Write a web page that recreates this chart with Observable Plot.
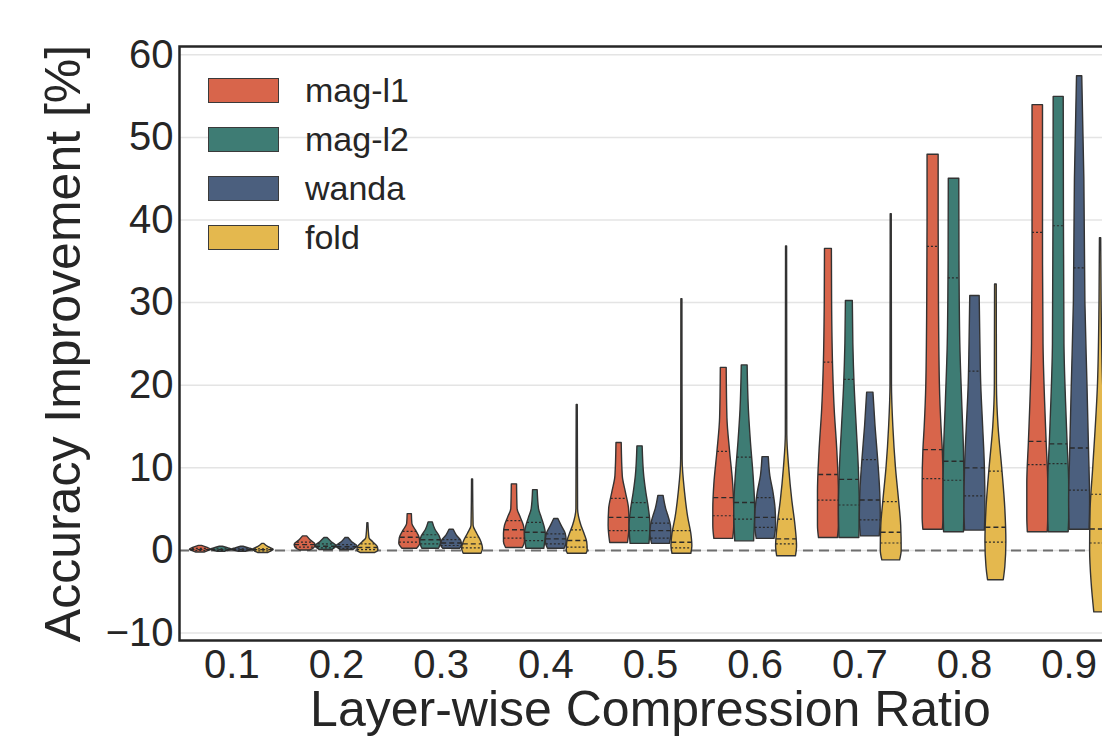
<!DOCTYPE html>
<html><head><meta charset="utf-8">
<script src="https://cdn.jsdelivr.net/npm/d3@7"></script>
<script src="https://cdn.jsdelivr.net/npm/@observablehq/plot@0.6"></script>
<style>
html,body{margin:0;padding:0;background:#fff;overflow:hidden;width:1102px;height:742px}
#wrap{position:relative;width:1125px;height:742px}
.legend{position:absolute;left:208px;top:66px;font-family:"Liberation Sans",Arial,sans-serif;font-size:34px;color:#262626}
.legend .row{display:flex;align-items:center;height:49px}
.legend .sw{width:71px;height:25px;box-sizing:border-box;border:1.5px solid #3a3a3a;margin-right:26px}
</style></head><body><div id="wrap"></div>
<script>
const ratios = ["0.1","0.2","0.3","0.4","0.5","0.6","0.7","0.8","0.9"];
const methods = ["mag-l1","mag-l2","wanda","fold"];
const palette = ["#d8654b","#3e7c74","#4b5f7e","#e4b84e"];
const yTicks = [-10,0,10,20,30,40,50,60];

// violin outlines: [value, relative half-width], bottom to top, one per ratio
const magL1Profiles = [
  [[-0.25,0.4],[0.1,1],[0.3,0.7],[0.55,0.15]],
  [[0,0.5],[0.3,0.9],[0.7,1],[1.2,0.55],[1.7,0.2]],
  [[0.2,0.7],[0.8,1],[1.5,0.95],[2.4,0.6],[3.2,0.25],[4.4,0.2]],
  [[0.3,0.8],[1,1],[2,1],[3,0.9],[4,0.6],[5,0.3],[8,0.25]],
  [[0.9,0.85],[3,1],[5,0.95],[7,0.65],[9,0.35],[13,0.25]],
  [[1.4,0.9],[3,1],[5,1],[8,0.9],[12,0.6],[16,0.35],[22.1,0.28]],
  [[1.5,0.9],[3,1],[7,1],[12,0.85],[17,0.6],[22,0.45],[30,0.35],[36.5,0.33]],
  [[2.5,0.93],[4,1],[8,1],[12,0.93],[15,0.8],[20,0.65],[30,0.56],[40,0.53],[47.9,0.53]],
  [[2.2,0.95],[4,1],[8,1],[13,0.85],[18,0.7],[25,0.55],[38,0.5],[53.9,0.5]]
];
const magL2Profiles = [
  [[-0.15,0.4],[0.1,1],[0.25,0.7],[0.45,0.15]],
  [[0.05,0.6],[0.5,1],[1.0,0.55],[1.5,0.15]],
  [[0.2,0.8],[1,1],[1.7,0.85],[2.5,0.45],[3.4,0.2]],
  [[0.2,0.85],[2,1],[3,0.85],[4,0.6],[5,0.35],[7.3,0.22]],
  [[0.8,0.9],[3,1],[5,0.85],[7,0.6],[9,0.4],[12.6,0.25]],
  [[1.1,0.9],[5,1],[9,0.85],[13,0.6],[17,0.4],[22.4,0.28]],
  [[1.5,0.95],[5,1],[10,0.9],[15,0.7],[20,0.5],[25,0.38],[30.2,0.33]],
  [[2.2,0.95],[6,1],[12,0.95],[18,0.78],[25,0.6],[35,0.52],[45,0.5]],
  [[2.2,0.95],[4,1],[8,1],[13,0.85],[18,0.7],[25,0.55],[40,0.5],[54.9,0.48]]
];
const wandaProfiles = [
  [[-0.15,0.4],[0.1,1],[0.25,0.65],[0.45,0.12]],
  [[0.05,0.6],[0.5,1],[1.0,0.5],[1.5,0.15]],
  [[0.2,0.8],[0.6,1],[1.2,0.9],[1.8,0.5],[2.5,0.2]],
  [[0.2,0.8],[1,1],[2,0.9],[3,0.5],[3.8,0.2]],
  [[0.8,0.85],[2,1],[3,0.95],[4,0.75],[5,0.5],[6.6,0.25]],
  [[1.4,0.85],[3,1],[5,0.95],[7,0.75],[9,0.45],[11.3,0.3]],
  [[1.7,0.9],[4,1],[7,0.95],[11,0.75],[15,0.5],[19.1,0.3]],
  [[2.4,0.95],[5,1],[10,0.95],[15,0.78],[20,0.6],[25,0.52],[30.8,0.45]],
  [[2.5,0.95],[6,1],[12,0.9],[20,0.75],[30,0.55],[45,0.45],[57.4,0.25]]
];
const foldProfiles = [
  [[-0.3,0.5],[0.1,1],[0.4,0.5],[0.8,0.08]],
  [[-0.3,0.7],[0,1],[0.4,0.95],[1.0,0.5],[1.5,0.15],[3.3,0.05]],
  [[-0.4,0.85],[0.2,1],[1,0.85],[2,0.45],[3,0.1],[8.6,0.05]],
  [[-0.4,0.9],[0,1],[1,0.95],[2,0.7],[3,0.4],[5,0.08],[17.6,0.05]],
  [[-0.4,0.9],[0.5,1],[2,0.9],[4,0.6],[7,0.3],[11,0.07],[30.4,0.05]],
  [[-0.7,0.9],[0.5,1],[3,0.85],[6,0.55],[10,0.25],[14,0.07],[36.8,0.05]],
  [[-1.2,0.85],[0,1],[3,0.95],[6,0.75],[10,0.45],[15,0.2],[20,0.07],[40.7,0.05]],
  [[-3.6,0.75],[-2,0.9],[1,1],[5,0.9],[10,0.6],[15,0.25],[20,0.1],[32.2,0.08]],
  [[-7.5,0.6],[-4,0.85],[0,1],[5,0.95],[10,0.7],[20,0.25],[30,0.1],[37.8,0.06]]
];

// inner quartile lines [q1, median, q3]
const magL1Quartiles = [[0,0.1,0.25],[0.4,0.7,1.0],[1.0,1.6,2.3],[1.5,2.5,3.6],[2.4,4.0,6.3],[4.2,6.4,12.0],[6.1,9.2,22.8],[8.7,12.2,36.8],[10.4,13.2,38.5]];
const magL2Quartiles = [[0,0.1,0.2],[0.3,0.5,0.8],[0.8,1.3,1.9],[1.2,2.2,3.4],[2.4,4.0,5.8],[3.8,5.8,11.3],[5.5,8.6,20.7],[8.5,10.8,33.0],[10.5,12.9,39.3]];
const wandaQuartiles = [[0,0.1,0.2],[0.25,0.45,0.7],[0.6,0.9,1.3],[0.8,1.4,2.0],[1.5,2.4,3.3],[2.8,4.0,6.4],[3.7,6.1,11.0],[6.6,10.0,21.7],[7.3,12.4,34.2]];
const foldQuartiles = [[-0.05,0.1,0.2],[0.1,0.35,0.8],[0.3,0.8,1.6],[0.4,1.2,2.5],[0.3,1.0,2.4],[0.8,1.4,3.8],[0.9,2.2,5.9],[1.0,2.8,9.6],[0.9,2.6,6.8]];

const profilesByMethod = [magL1Profiles, magL2Profiles, wandaProfiles, foldProfiles];
const quartsByMethod = [magL1Quartiles, magL2Quartiles, wandaQuartiles, foldQuartiles];

const slot = 0.2, half = 0.1;
function widthAt(prof, v) {
  for (let k = 1; k < prof.length; k++) {
    const [v0, w0] = prof[k-1], [v1, w1] = prof[k];
    if (v <= v1) { const t = Math.max(0, (v - v0) / (v1 - v0)); return w0 + t * (w1 - w0); }
  }
  return prof[prof.length-1][1];
}
const shapeRows = [], lineRows = [];
methods.forEach((m, j) => {
  profilesByMethod[j].forEach((prof, i) => {
    const c = i + (j - 1.5) * slot;
    prof.forEach(([v, w]) => shapeRows.push({method: m, key: m + "_" + i, v, lo: c - w*half, hi: c + w*half}));
    quartsByMethod[j][i].forEach((q, k) => {
      const w = widthAt(prof, q);
      lineRows.push({method: m, v: q, lo: c - w*half, hi: c + w*half, kind: k === 1 ? "median" : "quart"});
    });
  });
});

const fmt = d => d < 0 ? "\u2212" + Math.abs(d) : String(d);
const plot = Plot.plot({
  width: 1125, height: 742,
  marginLeft: 179, marginRight: 4, marginTop: 46, marginBottom: 102,
  style: {fontFamily: '"Liberation Sans", Arial, sans-serif', color: "#262626", background: "white", overflow: "visible"},
  x: {domain: [-0.5, 8.5], axis: null},
  y: {domain: [-10.9, 61], axis: null},
  color: {domain: methods, range: palette},
  marks: [
    Plot.gridY(yTicks, {stroke: "#e4e4e4", strokeOpacity: 1, strokeWidth: 1.5}),
    Plot.ruleY([0], {stroke: "#6e6e6e", strokeWidth: 2, strokeDasharray: "10,6"}),
    Plot.areaX(shapeRows, {y: "v", x1: "lo", x2: "hi", z: "key", fill: "method", stroke: "#333333", strokeWidth: 1.4, curve: "monotone-y"}),
    Plot.ruleY(lineRows.filter(d => d.kind === "quart"), {y: "v", x1: "lo", x2: "hi", stroke: "#2a2a2a", strokeWidth: 1.2, strokeDasharray: "2,2"}),
    Plot.ruleY(lineRows.filter(d => d.kind === "median"), {y: "v", x1: "lo", x2: "hi", stroke: "#2a2a2a", strokeWidth: 1.4, strokeDasharray: "5,3"}),
    Plot.axisY(yTicks, {tickSize: 0, tickPadding: 6, fontSize: 40, tickFormat: fmt, label: null}),
    Plot.axisX(d3.range(ratios.length), {tickSize: 0, tickPadding: 9, fontSize: 40, tickFormat: i => ratios[i], label: null}),
    Plot.text(["Layer-wise Compression Ratio"], {frameAnchor: "bottom", lineAnchor: "middle", textAnchor: "middle", dy: 69, fontSize: 50, fill: "#262626"}),
    Plot.text(["Accuracy Improvement [%]"], {frameAnchor: "left", lineAnchor: "middle", textAnchor: "middle", dx: -116, rotate: -90, fontSize: 50, fill: "#262626"}),
    Plot.frame({stroke: "#262626", strokeWidth: 2.5})
  ]
});
const wrap = document.getElementById("wrap");
wrap.appendChild(plot);
const color = plot.scale("color");
const legend = document.createElement("div");
legend.className = "legend";
methods.forEach((m, j) => {
  const row = document.createElement("div");
  row.className = "row";
  const sw = document.createElement("span");
  sw.className = "sw";
  sw.style.background = color.range[j];
  const lab = document.createElement("span");
  lab.textContent = m;
  row.appendChild(sw); row.appendChild(lab);
  legend.appendChild(row);
});
wrap.appendChild(legend);
</script></body></html>
